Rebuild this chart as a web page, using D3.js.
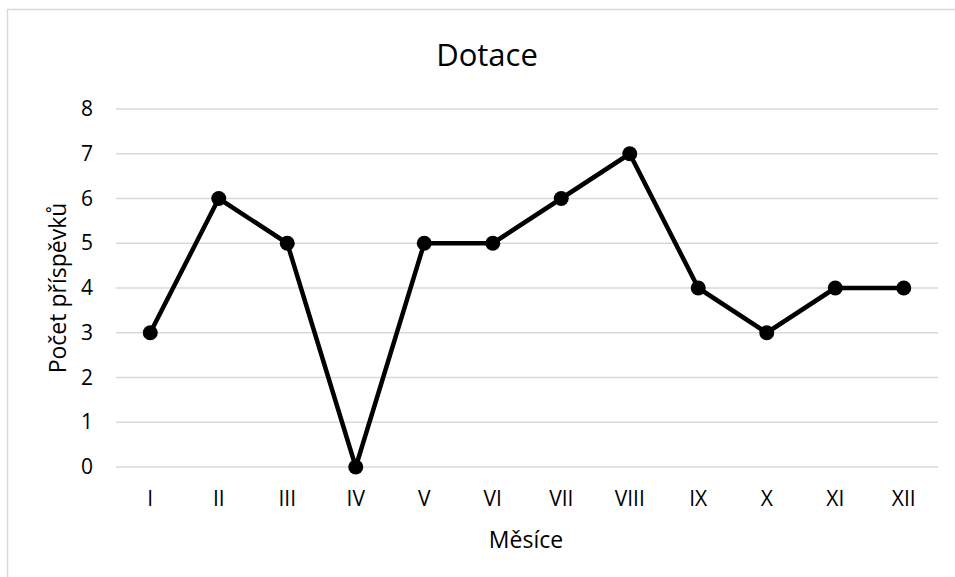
<!DOCTYPE html>
<html>
<head>
<meta charset="utf-8">
<script src="https://cdn.jsdelivr.net/npm/d3@7"></script>
<style>
  body { margin: 0; background: #fff; }
  svg text { font-family: "Open Sans", sans-serif; fill: #000; }
</style>
</head>
<body>
<div id="chart"></div>
<script>
// data
var months = ["I", "II", "III", "IV", "V", "VI", "VII", "VIII", "IX", "X", "XI", "XII"];
var counts = [3, 6, 5, 0, 5, 5, 6, 7, 4, 3, 4, 4];
var yTicks = [0, 1, 2, 3, 4, 5, 6, 7, 8];

var W = 955, H = 577;
var margin = {top: 109, right: 17, bottom: 110, left: 116},
    width = W - margin.left - margin.right,
    height = H - margin.top - margin.bottom;

var svg = d3.select("#chart")
  .append("svg")
    .attr("width", W)
    .attr("height", H);

// chart area frame (cut off at the right and bottom)
svg.append("rect")
  .attr("x", 7.5).attr("y", 9.5)
  .attr("width", W + 20).attr("height", H + 20)
  .attr("fill", "none")
  .attr("stroke", "#d9d9d9")
  .attr("stroke-width", 1.5);

var g = svg.append("g")
  .attr("transform", "translate(" + margin.left + "," + margin.top + ")");

var x = d3.scaleBand()
  .domain(months)
  .range([0, width]);

var y = d3.scaleLinear()
  .domain([0, 8])
  .range([height, 0]);

// gridlines
g.append("g")
  .selectAll("line")
  .data(yTicks)
  .enter()
  .append("line")
    .attr("x1", 0).attr("x2", width)
    .attr("y1", function(d) { return y(d) })
    .attr("y2", function(d) { return y(d) })
    .attr("stroke", "#d9d9d9")
    .attr("stroke-width", 1.5);

// y axis labels
var yAxis = g.append("g")
  .call(d3.axisLeft(y).tickValues(yTicks).tickSize(0).tickPadding(23))
  .attr("font-size", 21);
yAxis.select(".domain").remove();

// x axis labels
var xAxis = g.append("g")
  .attr("transform", "translate(0," + height + ")")
  .call(d3.axisBottom(x).tickSize(0).tickPadding(24))
  .attr("font-size", 21);
xAxis.select(".domain").remove();

// the line
g.append("path")
  .datum(counts)
  .attr("fill", "none")
  .attr("stroke", "#000")
  .attr("stroke-width", 4.5)
  .attr("stroke-linejoin", "round")
  .attr("d", d3.line()
    .x(function(d, i) { return x(months[i]) + x.bandwidth() / 2 })
    .y(function(d) { return y(d) })
  );

// markers
g.append("g")
  .selectAll("circle")
  .data(counts)
  .enter()
  .append("circle")
    .attr("cx", function(d, i) { return x(months[i]) + x.bandwidth() / 2 })
    .attr("cy", function(d) { return y(d) })
    .attr("r", 7.5)
    .attr("fill", "#000");

// titles
svg.append("text")
  .attr("x", margin.left + width / 2 - 40)
  .attr("y", 66)
  .attr("text-anchor", "middle")
  .style("font-size", "31px")
  .text("Dotace");

svg.append("text")
  .attr("x", margin.left + width / 2 - 1)
  .attr("y", 548)
  .attr("text-anchor", "middle")
  .style("font-size", "23px")
  .text("Měsíce");

svg.append("text")
  .attr("transform", "translate(66," + (margin.top + height / 2) + ") rotate(-90)")
  .attr("text-anchor", "middle")
  .style("font-size", "23px")
  .text("Počet příspěvků");
</script>
</body>
</html>
